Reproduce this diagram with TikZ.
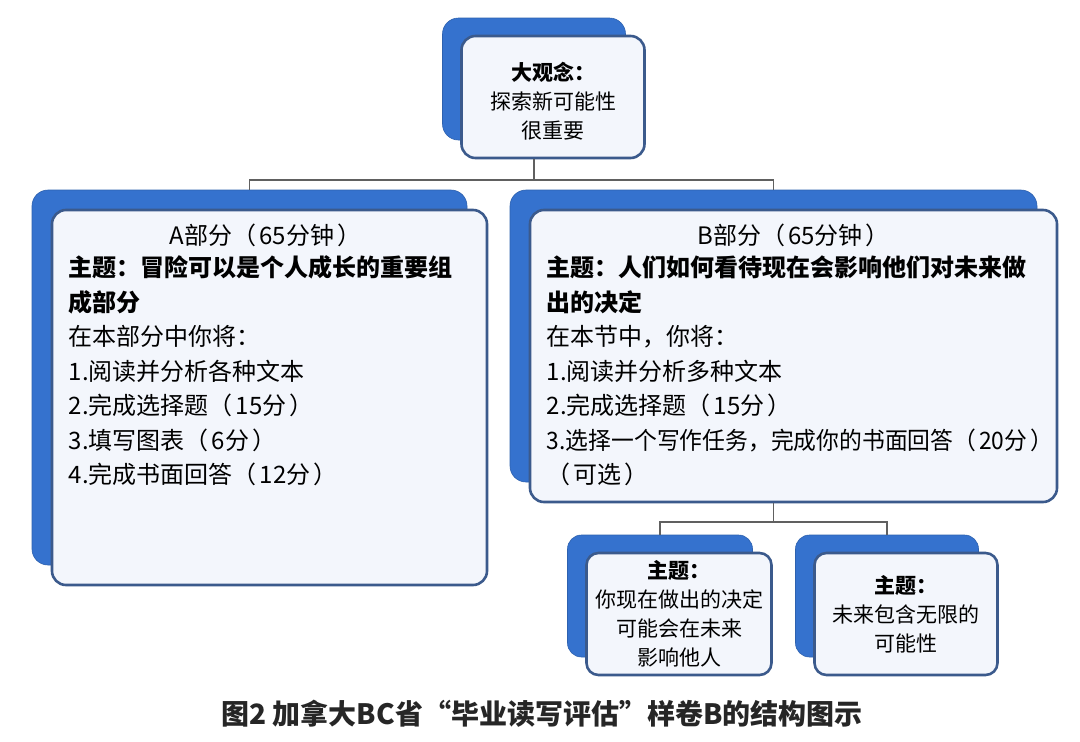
\documentclass[tikz,border=0pt]{standalone}
\usepackage{fontspec}
\setmainfont{Noto Sans CJK SC}
\usepackage{xcolor}
\usepackage{graphicx}
\usepackage{tikz}
\usetikzlibrary{positioning}
\definecolor{backblue}{HTML}{3572CE}
\definecolor{frontfill}{HTML}{F3F6FC}
\definecolor{frontline}{HTML}{3B5A8C}
\definecolor{linkgray}{HTML}{606060}
\definecolor{captiongray}{HTML}{262626}
\newcommand{\lp}{（\kern3pt}
\newcommand{\rp}{\kern3pt）}
\tikzset{
back box/.style = { rectangle, draw = backblue!85!black, fill = backblue, line width = 0.6pt, rounded corners = 16pt },
front box/.style = { rectangle, draw = frontline, fill = frontfill, line width = 2.6pt, rounded corners = 14pt, align = center, inner sep = 0pt },
small text/.style = { font = \fontsize{21}{29}\selectfont, text = black, align = center, inner sep = 0pt },
body text/.style = { font = \fontsize{24}{34.5}\selectfont, text = black, align = left, inner sep = 0pt },
title text/.style = { font = \fontsize{24}{30}\selectfont, text = black, inner sep = 0pt },
link/.style = { draw = linkgray, line width = 1.6pt },
}
\begin{document}
\begin{tikzpicture}[x = 1pt, y = -1pt]
      \useasboundingbox[fill = white] (0, 0) rectangle (1080, 742);
      % top box
      \node[back box, minimum width = 183pt, minimum height = 122pt] (ideaback) at (534, 79) {};
      \node[front box, minimum width = 183pt, minimum height = 122pt] (ideafront) at ([shift = {(19, 18)}]ideaback.center) {};
      \node[small text] (ideatext) at ([yshift = -4pt]ideafront.center) {\textbf{大观念：}\\探索新可能性\\很重要};
      % part A
      \node[back box, minimum width = 435pt, minimum height = 375pt] (aback) at (249.5, 377.5) {};
      \node[front box, minimum width = 435pt, minimum height = 375pt] (afront) at ([shift = {(20, 20)}]aback.center) {};
      \node[title text] (atitle) at ([shift = {(-4, 27)}]afront.north) {A部分\lp 65分钟\rp};
      \node[body text, anchor = north west] (abody) at ([shift = {(18, 47)}]afront.north west)
        {\textbf{主题：冒险可以是个人成长的重要组}\\
         \textbf{成部分}\\
         在本部分中你将：\\
         1.阅读并分析各种文本\\
         2.完成选择题\lp 15分\rp\\
         3.填写图表\lp 6分\rp\\
         4.完成书面回答\lp 12分\rp};
      % part B
      \node[back box, minimum width = 527pt, minimum height = 292pt] (bback) at (773.5, 336) {};
      \node[front box, minimum width = 527pt, minimum height = 292pt] (bfront) at ([shift = {(20, 20)}]bback.center) {};
      \node[title text] (btitle) at ([shift = {(0, 27)}]bfront.north) {B部分\lp 65分钟\rp};
      \node[body text, anchor = north west] (bbody) at ([shift = {(18, 47)}]bfront.north west)
        {\textbf{主题：人们如何看待现在会影响他们对未来做}\\
         \textbf{出的决定}\\
         在本节中，你将：\\
         1.阅读并分析多种文本\\
         2.完成选择题\lp 15分\rp\\
         \scalebox{0.95}[1]{3.选择一个写作任务，完成你的书面回答\lp 20分\rp}\\
         \lp 可选\rp};
      % small boxes under B
      \node[back box, minimum width = 185pt, minimum height = 122pt, rounded corners = 14pt] (decideback) at (660, 596) {};
      \node[front box, small text, minimum width = 185pt, minimum height = 122pt, rounded corners = 12pt] (decidefront) at ([shift = {(19, 18)}]decideback.center) {\textbf{主题：}\\你现在做出的决定\\可能会在未来\\影响他人};
      \node[back box, minimum width = 183pt, minimum height = 122pt, rounded corners = 14pt] (futureback) at (887, 596) {};
      \node[front box, small text, minimum width = 183pt, minimum height = 122pt, rounded corners = 12pt] (futurefront) at ([shift = {(19, 18)}]futureback.center) {\textbf{主题：}\\未来包含无限的\\可能性};
      % connectors
      \coordinate (topbus) at (ideaback.center |- 0, 180);
      \coordinate (bbus) at (bback.center |- 0, 522);
      \draw[link] (ideaback.center |- ideafront.south) -- (topbus);
      \draw[link] (topbus) -| (aback.north);
      \draw[link] (topbus) -| (bback.north);
      \draw[link] (bback.center |- bfront.south) -- (bbus);
      \draw[link] (bbus) -| (decideback.north);
      \draw[link] (bbus) -| (futureback.north);
      % caption
      \node[font = \fontsize{28}{32}\selectfont\bfseries, text = captiongray, inner sep = 0pt] (caption) at (542, 714) {图2 加拿大BC省“毕业读写评估”样卷B的结构图示};
\end{tikzpicture}
\end{document}
